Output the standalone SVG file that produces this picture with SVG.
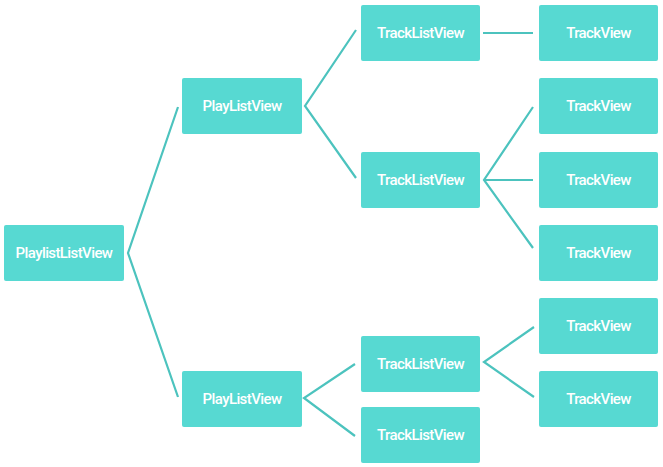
<svg xmlns="http://www.w3.org/2000/svg" width="663" height="467" viewBox="0 0 663 467">
<style>
.box{fill:#57d9d2;}
.lbl{fill:#ffffff;font-family:Roboto,"Liberation Sans",sans-serif;font-size:15px;font-weight:500;text-anchor:middle;dominant-baseline:central;letter-spacing:-0.6px;}
.ln{stroke:#4cc3be;stroke-width:2.2;fill:none;stroke-linecap:butt;}
</style>
<rect width="663" height="467" fill="#ffffff"/>
<g id="connectors">
<polyline class="ln" points="178,107 128,253 178,397"/>
<polyline class="ln" points="356,30 305,106 356,178"/>
<line class="ln" x1="483" y1="33" x2="533" y2="33"/>
<polyline class="ln" points="533,107 484,180 533,248"/>
<line class="ln" x1="484" y1="180" x2="533" y2="180"/>
<polyline class="ln" points="355,364 304,398 355,436"/>
<polyline class="ln" points="534,327 484,362 534,397"/>
</g>
<g id="root"><rect class="box" x="4" y="225" width="120" height="56" rx="2"/><text class="lbl" x="64" y="253">PlaylistListView</text></g>
<g id="pl1"><rect class="box" x="182" y="78" width="120" height="56" rx="2"/><text class="lbl" x="242" y="106">PlayListView</text></g>
<g id="pl2"><rect class="box" x="182" y="371" width="120" height="56" rx="2"/><text class="lbl" x="242" y="399">PlayListView</text></g>
<g id="tl1"><rect class="box" x="361" y="5" width="119" height="56" rx="2"/><text class="lbl" x="420.5" y="33">TrackListView</text></g>
<g id="tl2"><rect class="box" x="361" y="152" width="119" height="56" rx="2"/><text class="lbl" x="420.5" y="180">TrackListView</text></g>
<g id="tl3"><rect class="box" x="361" y="336" width="119" height="56" rx="2"/><text class="lbl" x="420.5" y="364">TrackListView</text></g>
<g id="tl4"><rect class="box" x="361" y="407" width="119" height="56" rx="2"/><text class="lbl" x="420.5" y="435">TrackListView</text></g>
<g id="tv1"><rect class="box" x="539" y="5" width="119" height="56" rx="2"/><text class="lbl" x="598.5" y="33">TrackView</text></g>
<g id="tv2"><rect class="box" x="539" y="78" width="119" height="56" rx="2"/><text class="lbl" x="598.5" y="106">TrackView</text></g>
<g id="tv3"><rect class="box" x="539" y="152" width="119" height="56" rx="2"/><text class="lbl" x="598.5" y="180">TrackView</text></g>
<g id="tv4"><rect class="box" x="539" y="225" width="119" height="56" rx="2"/><text class="lbl" x="598.5" y="253">TrackView</text></g>
<g id="tv5"><rect class="box" x="539" y="298" width="119" height="56" rx="2"/><text class="lbl" x="598.5" y="326">TrackView</text></g>
<g id="tv6"><rect class="box" x="539" y="371" width="119" height="56" rx="2"/><text class="lbl" x="598.5" y="399">TrackView</text></g>
</svg>
